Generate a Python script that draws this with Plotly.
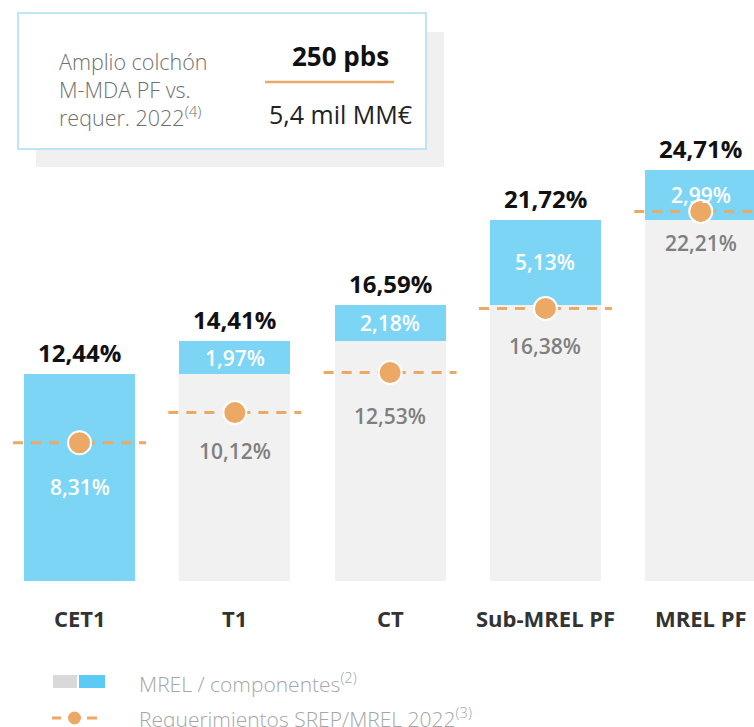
import plotly.graph_objects as go

# Capital / MREL stack, in % of RWA
categories = ["CET1", "T1", "CT", "Sub-MREL PF", "MREL PF"]
totals = [12.44, 14.41, 16.59, 21.72, 24.71]
increments = [12.44, 1.97, 2.18, 5.13, 2.99]
requirements = [8.31, 10.12, 12.53, 16.38, 22.21]

BLUE = "#7DD5F6"
GREY_BAR = "#F1F1F1"
ORANGE = "#ECA865"
FONT = "Open Sans"

W, H = 754, 727
PLOT_H = 581  # plot area height in px (top margin 0)


def fmt(v):
    return f"{v:.2f}".replace(".", ",") + "%"


def px(x):
    return x / W


def py(y):
    return (PLOT_H - y) / PLOT_H


xs = list(range(len(categories)))
bases = [t - inc for t, inc in zip(totals, increments)]

fig = go.Figure()

# grey part: previous level of the stack
fig.add_trace(go.Bar(x=xs, y=bases, marker=dict(color=GREY_BAR, line=dict(width=0)),
                     width=0.715, hoverinfo="skip", showlegend=False))
# blue part: component added at each level
fig.add_trace(go.Bar(x=xs, y=increments, base=bases,
                     marker=dict(color=BLUE, line=dict(width=0)),
                     width=0.715, hoverinfo="skip", showlegend=False))

# dashed requirement lines
lx, ly = [], []
for i, r in zip(xs, requirements):
    lx += [i - 0.428, i + 0.428, None]
    ly += [r, r, None]
fig.add_trace(go.Scatter(x=lx, y=ly, mode="lines",
                         line=dict(color=ORANGE, width=3, dash="10px,8px"),
                         hoverinfo="skip", showlegend=False))
# requirement dots
fig.add_trace(go.Scatter(x=xs, y=requirements, mode="markers",
                         marker=dict(color=ORANGE, size=23, line=dict(color="white", width=2)),
                         hoverinfo="skip", showlegend=False))

ann = []
# totals above each bar
for i, t in zip(xs, totals):
    ann.append(dict(x=i, y=t, text=f"<b>{fmt(t)}</b>", showarrow=False, yanchor="bottom",
                    yshift=3, font=dict(size=24, color="#111111", family=FONT)))
# component values inside the blue segments
for i, b, inc in zip(xs[1:], bases[1:], increments[1:]):
    ann.append(dict(x=i, y=b + inc / 2, text=fmt(inc), showarrow=False, yanchor="middle",
                    font=dict(size=21, color="white", family=FONT, weight=600)))
# requirement values below the dots
req_offsets = [-44, -38, -43, -38, -32]
for i, r, off in zip(xs, requirements, req_offsets):
    ann.append(dict(x=i, y=r, text=fmt(r), showarrow=False, yshift=off, yanchor="middle",
                    font=dict(size=21, color="white" if i == 0 else "#7F7F7F",
                              family=FONT, weight=600)))
# category labels
for i, c in zip(xs, categories):
    ann.append(dict(x=i, y=0, yref="y", text=f"<b>{c}</b>", showarrow=False, yshift=-37,
                    yanchor="middle", font=dict(size=22, color="#333333", family=FONT)))

# info box
shapes = [
    dict(type="rect", xref="paper", yref="paper", x0=px(36), x1=px(444), y0=py(32), y1=py(167),
         fillcolor="#F0F0F0", line=dict(width=0), layer="above"),
    dict(type="rect", xref="paper", yref="paper", x0=px(18), x1=px(426), y0=py(13), y1=py(149),
         fillcolor="white", line=dict(color="#A9DEF3", width=1.5), layer="above"),
    dict(type="line", xref="paper", yref="paper", x0=px(265), x1=px(394), y0=py(82), y1=py(82),
         line=dict(color=ORANGE, width=2.5), layer="above"),
]
ann += [
    dict(xref="paper", yref="paper", x=px(57), y=py(89), xanchor="left", yanchor="middle",
         align="left", showarrow=False,
         text="Amplio colchón<br>M-MDA PF vs.<br>requer. 2022<sup>(4)</sup>",
         font=dict(size=21.5, color="#6F6F6F", family=FONT, weight=300)),
    dict(xref="paper", yref="paper", x=px(340), y=py(55.5), xanchor="center", yanchor="middle",
         showarrow=False, text="<b>250 pbs</b>",
         font=dict(size=26, color="#111111", family=FONT)),
    dict(xref="paper", yref="paper", x=px(340), y=py(114.5), xanchor="center", yanchor="middle",
         showarrow=False, text="5,4 mil MM€",
         font=dict(size=25, color="#222222", family=FONT)),
]

# legend
shapes += [
    dict(type="rect", xref="paper", yref="paper", x0=px(53), x1=px(77), y0=py(675), y1=py(688),
         fillcolor="#D9D9D9", line=dict(width=0)),
    dict(type="rect", xref="paper", yref="paper", x0=px(79), x1=px(105), y0=py(675), y1=py(688),
         fillcolor="#5BCBF5", line=dict(width=0)),
    dict(type="line", xref="paper", yref="paper", x0=px(52), x1=px(61), y0=py(718), y1=py(718),
         line=dict(color=ORANGE, width=3)),
    dict(type="line", xref="paper", yref="paper", x0=px(87), x1=px(97), y0=py(718), y1=py(718),
         line=dict(color=ORANGE, width=3)),
    dict(type="circle", xref="paper", yref="paper", x0=px(68), x1=px(81), y0=py(711.5), y1=py(724.5),
         fillcolor=ORANGE, line=dict(width=0)),
]
ann += [
    dict(xref="paper", yref="paper", x=px(137), y=py(682), xanchor="left", yanchor="middle",
         showarrow=False, text="MREL / componentes<sup>(2)</sup>",
         font=dict(size=21, color="#A6A6A6", family=FONT, weight=300)),
    dict(xref="paper", yref="paper", x=px(137), y=py(717), xanchor="left", yanchor="middle",
         showarrow=False, text="Requerimientos SREP/MREL 2022<sup>(3)</sup>",
         font=dict(size=21, color="#A6A6A6", family=FONT, weight=300)),
]

fig.update_layout(
    width=W, height=H,
    margin=dict(l=0, r=0, t=0, b=H - PLOT_H, pad=0),
    paper_bgcolor="white", plot_bgcolor="white",
    barmode="overlay", bargap=0,
    font=dict(family=FONT),
    xaxis=dict(range=[-0.512, 4.343], showgrid=False, zeroline=False, showticklabels=False,
               showline=False, fixedrange=True),
    yaxis=dict(range=[0, PLOT_H / 16.64], showgrid=False, zeroline=False, showticklabels=False,
               showline=False, fixedrange=True),
    annotations=ann, shapes=shapes,
    showlegend=False,
)

fig.write_html("out.html")
